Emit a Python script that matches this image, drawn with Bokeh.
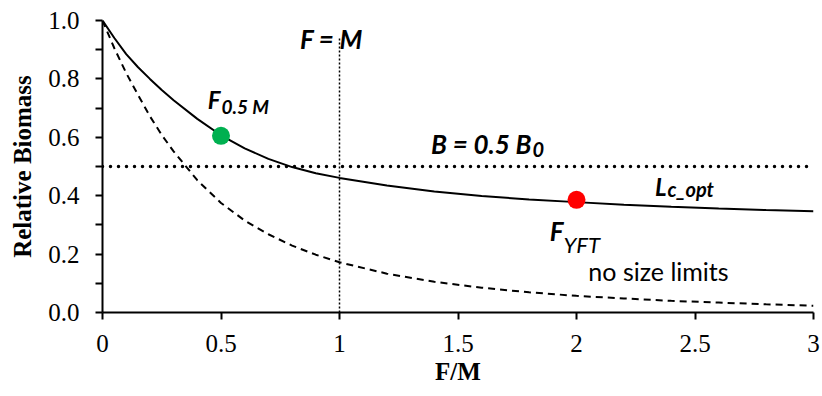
from bokeh.plotting import figure
from bokeh.models import Range1d, FixedTicker, ColumnDataSource
from bokeh.embed import file_html
from bokeh.resources import INLINE
from bokeh.core.properties import value

# ---- data ----
f_over_m = [0, 0.05, 0.1, 0.15, 0.2, 0.25, 0.3, 0.4, 0.5, 0.6, 0.7, 0.8, 0.9, 1.0,
            1.2, 1.4, 1.6, 1.8, 2.0, 2.2, 2.4, 2.6, 2.8, 3.0]
b_lc_opt = [1.0, 0.94, 0.885, 0.84, 0.80, 0.762, 0.727, 0.663, 0.607, 0.562, 0.526,
            0.498, 0.477, 0.461, 0.435, 0.414, 0.399, 0.387, 0.378, 0.369, 0.362,
            0.356, 0.351, 0.347]
b_no_limits = [1.0, 0.905, 0.82, 0.745, 0.672, 0.608, 0.552, 0.453, 0.375, 0.315, 0.268,
               0.229, 0.198, 0.172, 0.133, 0.105, 0.085, 0.069, 0.057, 0.048, 0.04,
               0.034, 0.028, 0.023]
points_x = [0.5, 2.0]
points_y = [0.605, 0.386]
point_colors = ["#00B050", "#FF0000"]
ref_b_x = [0, 3]
ref_b_y = [0.5, 0.5]
ref_f_x = [1, 1]
ref_f_y = [0, 0.94]
x_ticks = [0, 0.5, 1, 1.5, 2, 2.5, 3]
x_tick_labels = ["0", "0.5", "1", "1.5", "2", "2.5", "3"]
y_ticks = [0, 0.2, 0.4, 0.6, 0.8, 1.0]
y_minor_ticks = [0.1, 0.3, 0.5, 0.7, 0.9]
y_tick_labels = ["0.0", "0.2", "0.4", "0.6", "0.8", "1.0"]

# annotation texts: text, anchor x, baseline y, size, style, alignment
ann_text = ["F = M", "F", "0.5 M", "B = 0.5 B", "0", "L", "c_opt", "F", "YFT", "no size limits"]
ann_x = [0.966, 0.498, 0.502, 1.81, 1.814, 2.38, 2.384, 1.945, 1.945, 2.346]
ann_y = [0.936, 0.731, 0.707, 0.577, 0.559, 0.432, 0.422, 0.279, 0.234, 0.142]
ann_size = ["26px", "24px", "19px", "26px", "20px", "24px", "20px", "26px", "22px", "25px"]
ann_style = ["bold italic", "bold italic", "bold italic", "bold italic", "bold italic",
             "bold italic", "bold italic", "bold italic", "italic", "normal"]
ann_align = ["center", "right", "left", "right", "left", "right", "left", "right", "left", "center"]

p = figure(width=822, height=396, x_range=Range1d(0, 3), y_range=Range1d(0, 1.0),
           output_backend="svg", toolbar_location=None,
           min_border_left=102, min_border_right=9, min_border_top=20, min_border_bottom=84)
p.grid.visible = False
p.outline_line_color = None
p.background_fill_color = "white"
p.border_fill_color = "white"

p.xaxis.ticker = FixedTicker(ticks=x_ticks)
p.xaxis.major_label_overrides = {t: l for t, l in zip(x_ticks, x_tick_labels)}
p.yaxis.ticker = FixedTicker(ticks=y_ticks, minor_ticks=y_minor_ticks)
p.yaxis.major_label_overrides = {t: l for t, l in zip(y_ticks, y_tick_labels)}

for ax in (p.xaxis[0], p.yaxis[0]):
    ax.axis_line_width = 2
    ax.axis_line_color = "black"
    ax.major_tick_line_width = 2
    ax.major_tick_line_color = "black"
    ax.major_tick_out = 7
    ax.major_tick_in = 0
    ax.minor_tick_line_width = 2
    ax.minor_tick_line_color = "black"
    ax.minor_tick_out = 7
    ax.minor_tick_in = 0
    ax.major_label_text_font = "Liberation Serif"
    ax.major_label_text_font_size = "25px"
    ax.major_label_text_color = "black"
    ax.axis_label_text_font = "Liberation Serif"
    ax.axis_label_text_font_size = "25px"
    ax.axis_label_text_font_style = "bold"
    ax.axis_label_text_color = "black"

p.xaxis.axis_label = "F/M"
p.yaxis.axis_label = "Relative Biomass"
p.xaxis.major_label_standoff = 15
p.xaxis.axis_label_standoff = 3
p.yaxis.major_label_standoff = 16
p.yaxis.axis_label_standoff = 9

# reference lines
p.line(ref_b_x, ref_b_y, line_color="black", line_width=3.5, line_dash="0 8", line_cap="round")
p.line(ref_f_x, ref_f_y, line_color="black", line_width=1.5, line_dash="2 2")

# curves
p.line(f_over_m, b_no_limits, line_color="black", line_width=2, line_dash="7 5")
p.line(f_over_m, b_lc_opt, line_color="black", line_width=2)

# points
p.scatter(points_x, points_y, size=18, fill_color=point_colors, line_color=None)

src = ColumnDataSource(dict(text=ann_text, x=ann_x, y=ann_y, size=ann_size,
                            style=ann_style, align=ann_align))
p.text(x="x", y="y", text="text", source=src, text_font=value("Lato"),
       text_font_size="size", text_font_style="style", text_color="black",
       text_baseline="alphabetic", text_align="align")

open("out.html", "w").write(file_html(p, INLINE))
